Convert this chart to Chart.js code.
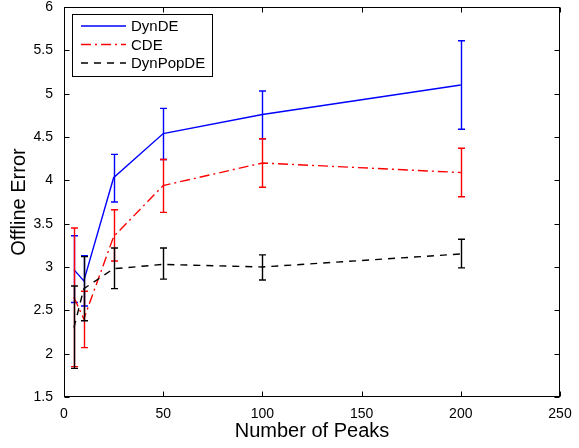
<!DOCTYPE html>
<html>
<head>
<meta charset="utf-8">
<script src="https://cdn.jsdelivr.net/npm/chart.js@4/dist/chart.umd.min.js"></script>
<style>
  html, body { margin: 0; padding: 0; background: #fff; }
</style>
</head>
<body>
<canvas id="chart" width="579" height="448"></canvas>
<script>
// number of peaks (x)
const peaks = [5, 10, 25, 50, 100, 200];

// DynDE
const dynDE = [2.97, 2.84, 4.03, 4.54, 4.76, 5.10];
const dynDEHigh = [3.36, 3.13, 4.30, 4.83, 5.03, 5.61];
const dynDELow = [2.59, 2.55, 3.75, 4.24, 4.48, 4.59];

// CDE
const cde = [2.65, 2.40, 3.35, 3.94, 4.20, 4.09];
const cdeHigh = [3.45, 2.72, 3.66, 4.24, 4.48, 4.37];
const cdeLow = [1.85, 2.07, 3.07, 3.63, 3.92, 3.81];

// DynPopDE
const dynPopDE = [2.30, 2.75, 2.98, 3.03, 3.00, 3.15];
const dynPopDEHigh = [2.78, 3.12, 3.22, 3.22, 3.14, 3.32];
const dynPopDELow = [1.83, 2.38, 2.75, 2.86, 2.85, 2.99];

const xTicks = [0, 50, 100, 150, 200, 250];
const yTicks = [1.5, 2, 2.5, 3, 3.5, 4, 4.5, 5, 5.5, 6];

const FONT = "'Liberation Sans', Arial, Helvetica, sans-serif";

const toPoints = vals => vals.map((v, i) => ({ x: peaks[i], y: v }));
const errors = [
  { low: dynDELow, high: dynDEHigh },
  { low: cdeLow, high: cdeHigh },
  { low: dynPopDELow, high: dynPopDEHigh }
];

// error bars drawn right after each series so stacking follows the series
const errorBars = {
  id: 'errorBars',
  afterDatasetDraw(chart, args) {
    const err = errors[args.index];
    if (!err) return;
    const ds = chart.data.datasets[args.index];
    const yScale = chart.scales.y;
    const ctx = chart.ctx;
    ctx.save();
    ctx.strokeStyle = ds.borderColor;
    ctx.lineWidth = 1.4;
    ctx.setLineDash([]);
    args.meta.data.forEach((pt, i) => {
      const x = Math.round(pt.x) + 0.5;
      const top = yScale.getPixelForValue(err.high[i]);
      const bot = yScale.getPixelForValue(err.low[i]);
      ctx.beginPath();
      ctx.moveTo(x, top);
      ctx.lineTo(x, bot);
      ctx.moveTo(x - 3.5, top);
      ctx.lineTo(x + 3.5, top);
      ctx.moveTo(x - 3.5, bot);
      ctx.lineTo(x + 3.5, bot);
      ctx.stroke();
    });
    ctx.restore();
  }
};

// matlab style box with inward ticks on all sides
const axesBox = {
  id: 'axesBox',
  afterDraw(chart) {
    const { ctx, chartArea: a, scales: { x, y } } = chart;
    const L = Math.round(a.left) + 0.5, R = Math.round(a.right) - 0.5;
    const T = Math.round(a.top) + 0.5, B = Math.round(a.bottom) - 0.5;
    ctx.save();
    ctx.strokeStyle = '#000';
    ctx.lineWidth = 1;
    ctx.setLineDash([]);
    ctx.strokeRect(L, T, R - L, B - T);
    ctx.beginPath();
    xTicks.forEach(v => {
      const px = Math.round(x.getPixelForValue(v)) + 0.5;
      ctx.moveTo(px, B); ctx.lineTo(px, B - 5);
      ctx.moveTo(px, T); ctx.lineTo(px, T + 5);
    });
    yTicks.forEach(v => {
      const py = Math.round(y.getPixelForValue(v)) + 0.5;
      ctx.moveTo(L, py); ctx.lineTo(L + 5, py);
      ctx.moveTo(R, py); ctx.lineTo(R - 5, py);
    });
    ctx.stroke();
    ctx.restore();
  }
};

const boxLegend = {
  id: 'boxLegend',
  afterDraw(chart) {
    const ctx = chart.ctx;
    const bx = 72.5, by = 14.5, bw = 140, bh = 62;
    ctx.save();
    ctx.fillStyle = '#fff';
    ctx.fillRect(bx, by, bw, bh);
    ctx.strokeStyle = '#000';
    ctx.lineWidth = 1;
    ctx.setLineDash([]);
    ctx.strokeRect(bx, by, bw, bh);
    ctx.font = '15px ' + FONT;
    ctx.textBaseline = 'middle';
    ctx.textAlign = 'left';
    const rows = [26, 44.5, 63];
    chart.data.datasets.forEach((ds, i) => {
      const ry = rows[i];
      ctx.strokeStyle = ds.borderColor;
      ctx.lineWidth = ds.borderWidth;
      ctx.setLineDash(ds.borderDash || []);
      ctx.beginPath();
      ctx.moveTo(81, ry);
      ctx.lineTo(126, ry);
      ctx.stroke();
      ctx.fillStyle = '#000';
      ctx.fillText(ds.label, 131, ry + 1);
    });
    ctx.restore();
  }
};

new Chart(document.getElementById('chart'), {
  type: 'line',
  data: {
    datasets: [
      { label: 'DynDE', data: toPoints(dynDE), borderColor: '#0000ff', borderWidth: 1.4, borderDash: [], order: 3 },
      { label: 'CDE', data: toPoints(cde), borderColor: '#ff0000', borderWidth: 1.4, borderDash: [10, 4, 2, 4], order: 2 },
      { label: 'DynPopDE', data: toPoints(dynPopDE), borderColor: '#000000', borderWidth: 1.4, borderDash: [7, 6], order: 1 }
    ]
  },
  options: {
    responsive: false,
    animation: false,
    events: [],
    layout: { padding: { top: 7, right: 19, left: 0, bottom: 0 } },
    elements: { point: { radius: 0 }, line: { tension: 0, fill: false } },
    plugins: { legend: { display: false }, tooltip: { enabled: false } },
    scales: {
      x: {
        type: 'linear',
        min: 0,
        max: 250,
        afterBuildTicks: s => { s.ticks = xTicks.map(v => ({ value: v })); },
        afterFit: s => { s.height = 51; },
        grid: { display: false },
        border: { display: false },
        ticks: { color: '#000', padding: 1, font: { family: FONT, size: 14 }, callback: v => String(v) },
        title: {
          display: true,
          text: 'Number of Peaks',
          color: '#000',
          font: { family: FONT, size: 20 },
          padding: { top: 0, bottom: 5 }
        }
      },
      y: {
        min: 1.5,
        max: 6,
        afterBuildTicks: s => { s.ticks = yTicks.map(v => ({ value: v })); },
        afterFit: s => { s.width = 64; s.paddingTop = 0; s.paddingBottom = 0; },
        grid: { display: false },
        border: { display: false },
        ticks: { color: '#000', padding: 3, font: { family: FONT, size: 14, lineHeight: 0.4 }, callback: v => String(v) },
        title: {
          display: true,
          text: 'Offline Error',
          color: '#000',
          font: { family: FONT, size: 20 },
          padding: { top: 7, bottom: 0 }
        }
      }
    }
  },
  plugins: [errorBars, axesBox, boxLegend]
});
</script>
</body>
</html>
